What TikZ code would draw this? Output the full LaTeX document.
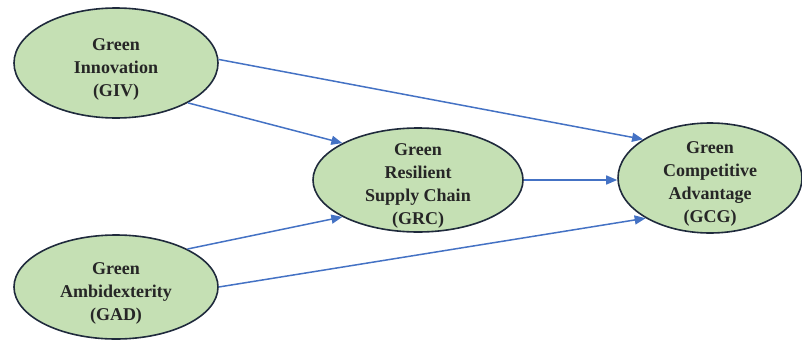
\documentclass[tikz,border=0pt]{standalone}
\usepackage{fontspec}
\setmainfont{Liberation Serif}
\usetikzlibrary{shapes.geometric,arrows.meta}
\definecolor{ellfill}{HTML}{C5E0B4}
\definecolor{elldraw}{HTML}{1F2A3C}
\definecolor{arrblue}{HTML}{4472C4}
\newcommand{\topstrut}{\rule{0pt}{24pt}}
\begin{document}
\begin{tikzpicture}[x=1pt,y=1pt,
  construct/.style={ellipse, draw=elldraw, line width=1.6pt, fill=ellfill, inner xsep=0pt, inner ysep=-40pt,
    align=center, font=\fontsize{18}{23}\selectfont\bfseries, text=black!85},
  link/.style={draw=arrblue, line width=1.5pt, -{Triangle[width=9pt,length=11pt]}}]
\useasboundingbox (0,0) rectangle (802,341);
\node[construct, minimum width=204pt, minimum height=110pt] (giv) at (116,278) {\topstrut Green\\Innovation\\(GIV)};
\node[construct, minimum width=210pt, minimum height=104pt] (grc) at (418,161) {\topstrut Green\\Resilient\\Supply Chain\\(GRC)};
\node[construct, minimum width=184pt, minimum height=110pt] (gcg) at (710,163) {\topstrut Green\\Competitive\\Advantage\\(GCG)};
\node[construct, minimum width=204pt, minimum height=104pt] (gad) at (116,54) {\topstrut Green\\Ambidexterity\\(GAD)};
\draw[link] (giv.2) -- (gcg.150);
\draw[link] (giv.-29) -- (grc.154);
\draw[link] (grc.east) -- (gcg.west |- grc.east);
\draw[link] (gad.28) -- (grc.206);
\draw[link] (gad.0) -- (gcg.212);
\end{tikzpicture}
\end{document}
